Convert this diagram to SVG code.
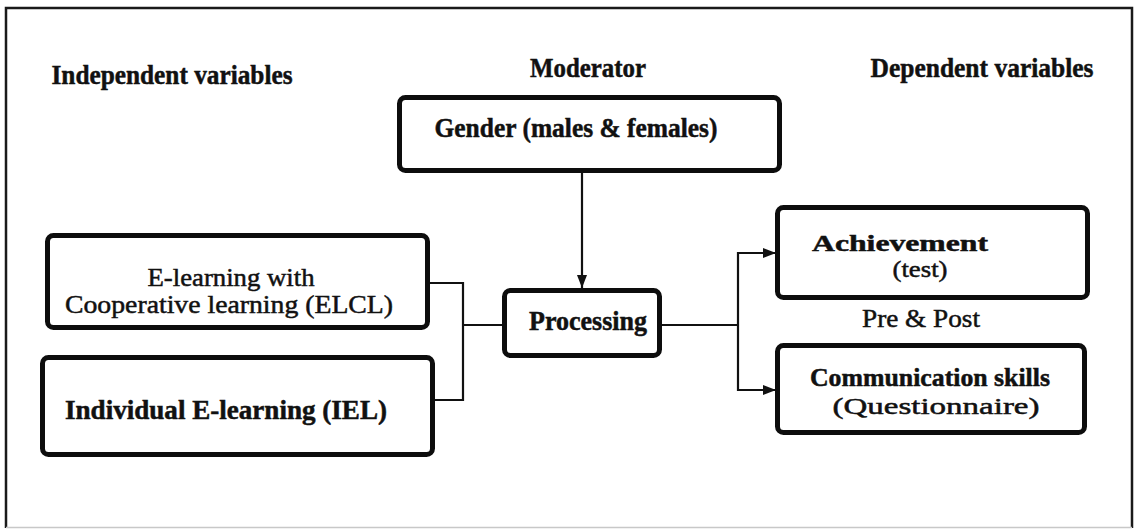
<svg xmlns="http://www.w3.org/2000/svg" width="1136" height="530" viewBox="0 0 1136 530">
<style>
.bg{fill:#ffffff}
.frame{stroke:#1a1a1a;stroke-width:2.5;fill:none}
.frameb{stroke:#c8c8c8;stroke-width:1.5;fill:none}
.box{fill:#ffffff;stroke:#0d0d0d;stroke-width:5}
.conn{fill:none;stroke:#111111;stroke-width:2.2}
text{font-family:"Liberation Serif","Times New Roman",serif;fill:#111111;stroke:#111111;stroke-width:0.5;text-anchor:middle}
.t{font-size:28px;font-weight:bold}
.b{font-size:27px;font-weight:bold}
.r{font-size:26px;font-weight:normal}
.s{font-size:24px}
.m{font-size:26px}
</style>
<defs>
<marker id="arr" markerUnits="userSpaceOnUse" markerWidth="14" markerHeight="12" refX="13" refY="6" orient="auto">
<path d="M0,1 L13,6 L0,11 Z" fill="#111111"/>
</marker>
</defs>
<rect class="bg" x="0" y="0" width="1136" height="530"/>
<g id="frame">
<path class="frame" d="M6,528 V8 H1132 V528"/>
<path class="frameb" d="M6,527.5 H1132"/>
</g>
<g id="titles">
<text class="t" x="172" y="84" textLength="241" lengthAdjust="spacingAndGlyphs">Independent variables</text>
<text class="t" x="588" y="77" textLength="116" lengthAdjust="spacingAndGlyphs">Moderator</text>
<text class="t" x="982" y="77" textLength="223" lengthAdjust="spacingAndGlyphs">Dependent variables</text>
</g>
<g id="connectors">
<path class="conn" d="M582,173 V288" marker-end="url(#arr)"/>
<path class="conn" d="M430,283 H463 V400 H435"/>
<path class="conn" d="M463,325 H503"/>
<path class="conn" d="M661,325 H738"/>
<path class="conn" d="M738,325 V253 H776" marker-end="url(#arr)"/>
<path class="conn" d="M738,325 V390 H776" marker-end="url(#arr)"/>
</g>
<g id="gender">
<rect class="box" x="399.5" y="97.5" width="380" height="73" rx="6"/>
<text class="t" x="576" y="137" textLength="283" lengthAdjust="spacingAndGlyphs">Gender (males &amp; females)</text>
</g>
<g id="elcl">
<rect class="box" x="47.5" y="235.5" width="380" height="92" rx="6"/>
<text class="r" x="231" y="286" textLength="167" lengthAdjust="spacingAndGlyphs">E-learning with</text>
<text class="r" x="229" y="313" textLength="328" lengthAdjust="spacingAndGlyphs">Cooperative learning (ELCL)</text>
</g>
<g id="iel">
<rect class="box" x="42.5" y="357.5" width="390" height="97" rx="6"/>
<text class="b" x="226" y="419" textLength="322" lengthAdjust="spacingAndGlyphs">Individual E-learning (IEL)</text>
</g>
<g id="processing">
<rect class="box" x="504.5" y="290.5" width="155" height="65" rx="6"/>
<text class="b" x="588" y="330" textLength="118" lengthAdjust="spacingAndGlyphs">Processing</text>
</g>
<g id="achievement">
<rect class="box" x="777.5" y="207.5" width="310" height="90" rx="6"/>
<text class="b s" x="900" y="251" textLength="176" lengthAdjust="spacingAndGlyphs">Achievement</text>
<text class="r s" x="920" y="277" textLength="55" lengthAdjust="spacingAndGlyphs">(test)</text>
</g>
<g id="prepost">
<text class="r" x="921" y="327" textLength="118" lengthAdjust="spacingAndGlyphs">Pre &amp; Post</text>
</g>
<g id="communication">
<rect class="box" x="777.5" y="345.5" width="307" height="87" rx="6"/>
<text class="b m" x="930" y="386" textLength="240" lengthAdjust="spacingAndGlyphs">Communication skills</text>
<text class="r s" x="936" y="414" textLength="207" lengthAdjust="spacingAndGlyphs">(Questionnaire)</text>
</g>
</svg>
